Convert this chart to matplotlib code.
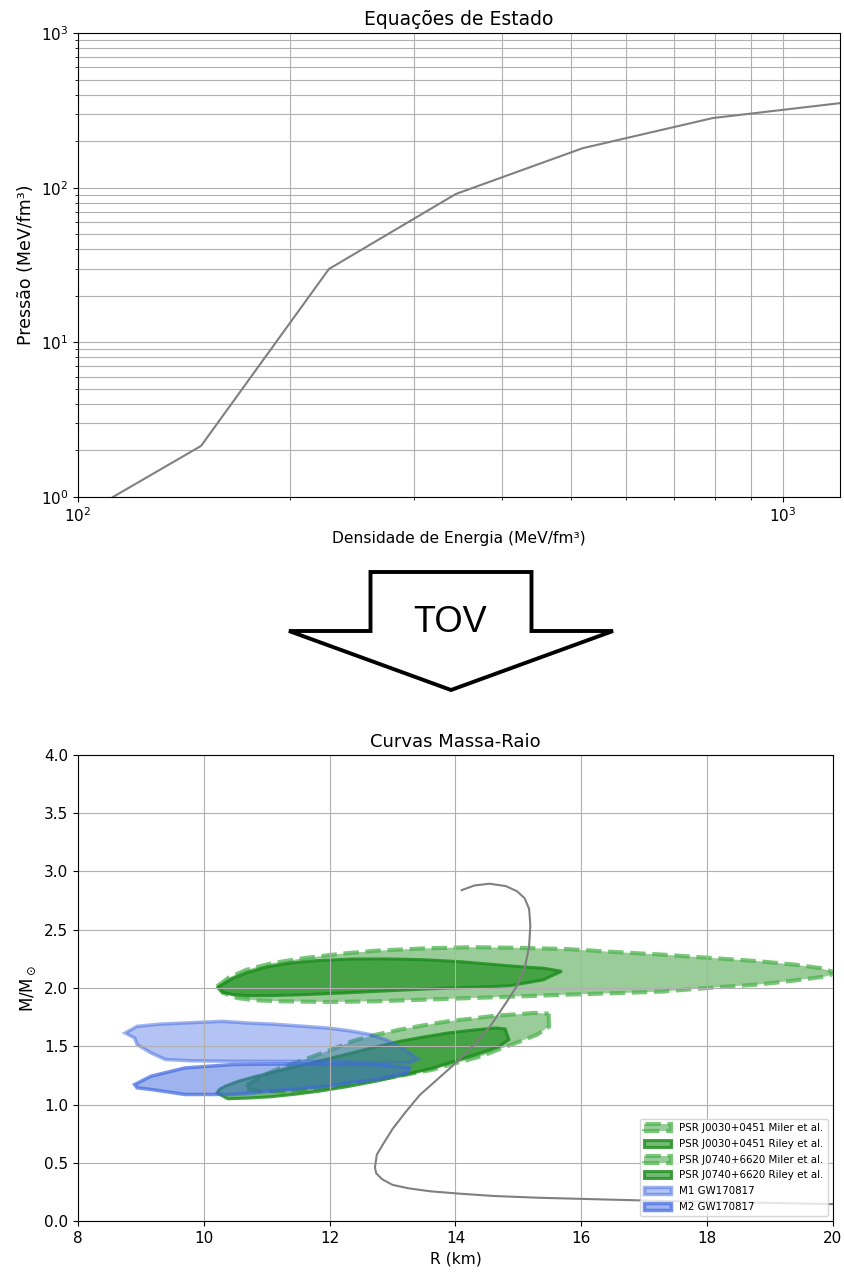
import numpy as np
import matplotlib
matplotlib.use("Agg")
import matplotlib.pyplot as plt
from matplotlib.patches import FancyArrow
from matplotlib.ticker import NullFormatter

# equacao de estado (densidade de energia x pressao)
eps_eos = [112.1, 149.5, 227.0, 343.5, 520.0, 795.5, 1205.0]
p_eos = [1.0, 2.14, 29.8, 91.0, 180.0, 282.0, 352.0]

# curva massa-raio
r_curve = [20.0, 18.5, 17.0, 16.0, 15.3, 14.6, 14.03, 13.6, 13.26, 13.0, 12.83, 12.74,
           12.72, 12.75, 12.85, 13.0, 13.2, 13.43, 13.7, 13.95, 14.29, 14.55, 14.8, 14.98,
           15.1, 15.17, 15.19, 15.17, 15.1, 14.98, 14.8, 14.54, 14.3, 14.1]
m_curve = [0.145, 0.16, 0.176, 0.19, 0.2, 0.215, 0.236, 0.255, 0.28, 0.31, 0.36, 0.41,
           0.46, 0.57, 0.66, 0.79, 0.93, 1.08, 1.21, 1.33, 1.51, 1.67, 1.87, 2.02,
           2.17, 2.35, 2.54, 2.68, 2.77, 2.83, 2.875, 2.895, 2.88, 2.84]

# contornos observacionais
r_j0030_miller = [15.48, 15.49, 15.3, 15.02, 14.7, 14.41, 14.0, 13.65, 13.2, 12.74, 12.3, 11.83,
                  11.5, 11.22, 10.9, 10.7, 10.65, 10.8, 10.91, 11.2, 11.6, 12.0, 12.36, 12.7,
                  13.12, 13.5, 13.88, 14.3, 14.64, 15.0, 15.25]
m_j0030_miller = [1.78, 1.67, 1.6, 1.54, 1.475, 1.414, 1.355, 1.3, 1.255, 1.214, 1.18, 1.143,
                  1.125, 1.114, 1.115, 1.13, 1.16, 1.2, 1.243, 1.31, 1.386, 1.465, 1.543, 1.595,
                  1.643, 1.68, 1.714, 1.74, 1.763, 1.775, 1.786]

r_j0030_riley = [14.79, 14.85, 14.7, 14.41, 14.0, 13.65, 13.2, 12.74, 12.3, 11.83, 11.45, 11.06,
                 10.7, 10.38, 10.21, 10.25, 10.34, 10.55, 10.84, 11.2, 11.6, 12.0, 12.36, 12.7,
                 13.12, 13.5, 13.88, 14.3, 14.64]
m_j0030_riley = [1.649, 1.557, 1.5, 1.443, 1.375, 1.314, 1.255, 1.2, 1.155, 1.114, 1.088, 1.066,
                 1.055, 1.049, 1.1, 1.13, 1.157, 1.2, 1.243, 1.29, 1.343, 1.395, 1.443, 1.49,
                 1.543, 1.58, 1.614, 1.64, 1.657]

r_j0740_miller = [10.21, 10.4, 10.68, 11.1, 11.6, 12.2, 12.74, 13.5, 14.26, 15.0, 15.78, 16.5,
                  17.3, 18.0, 18.82, 19.4, 19.81, 20.05, 19.9, 19.4, 18.82, 18.0, 17.3, 16.5,
                  15.78, 15.0, 14.26, 13.5, 12.74, 12.0, 11.22, 10.8, 10.53, 10.3]
m_j0740_miller = [2.014, 2.09, 2.157, 2.215, 2.257, 2.295, 2.32, 2.34, 2.35, 2.345, 2.334, 2.31,
                  2.286, 2.26, 2.23, 2.2, 2.17, 2.13, 2.1, 2.065, 2.03, 2.0, 1.97, 1.955,
                  1.943, 1.928, 1.914, 1.9, 1.886, 1.88, 1.886, 1.895, 1.914, 1.96]

r_j0740_riley = [10.23, 10.45, 10.68, 11.0, 11.37, 11.8, 12.36, 12.9, 13.5, 14.1, 14.64, 15.1,
                 15.4, 15.69, 15.55, 15.4, 14.87, 14.3, 13.88, 13.3, 12.74, 12.2, 11.6, 11.1,
                 10.68, 10.45, 10.3]
m_j0740_riley = [2.009, 2.08, 2.13, 2.18, 2.214, 2.235, 2.249, 2.25, 2.243, 2.225, 2.2, 2.18,
                 2.17, 2.143, 2.11, 2.07, 2.02, 2.005, 2.0, 1.985, 1.971, 1.957, 1.943, 1.935,
                 1.934, 1.945, 1.963]

r_m1 = [8.75, 8.94, 9.3, 9.7, 10.3, 10.68, 11.1, 11.6, 12.0, 12.36, 12.65, 12.89, 13.05,
        13.19, 13.41, 13.27, 12.5, 11.98, 11.2, 10.46, 9.8, 9.39, 9.16, 8.94, 8.9]
m_m1 = [1.614, 1.671, 1.69, 1.7, 1.714, 1.7, 1.69, 1.671, 1.655, 1.629, 1.6, 1.557, 1.515,
        1.471, 1.391, 1.357, 1.36, 1.371, 1.37, 1.371, 1.375, 1.386, 1.443, 1.514, 1.571]

r_m2 = [8.9, 9.16, 9.7, 10.46, 11.0, 11.6, 12.2, 12.74, 13.27, 13.23, 12.74, 12.3, 11.98,
        11.6, 11.22, 10.8, 10.46, 9.7, 9.16, 8.94]
m_m2 = [1.171, 1.243, 1.314, 1.343, 1.347, 1.349, 1.347, 1.343, 1.314, 1.271, 1.214, 1.185,
        1.157, 1.14, 1.123, 1.1, 1.086, 1.086, 1.129, 1.143]

fig = plt.figure(figsize=(8.44, 12.75), dpi=100)

# ---- Equacoes de estado ----
ax1 = fig.add_axes([0.0924, 0.6102, 0.9028, 0.3639])
ax1.plot(eps_eos, p_eos, color='gray', lw=1.5)
ax1.set_xscale('log')
ax1.set_yscale('log')
ax1.set_xlim(100, 1205)
ax1.set_ylim(1, 1000)
ax1.xaxis.set_minor_formatter(NullFormatter())
ax1.grid(True, which='both')
ax1.tick_params(labelsize=11)
ax1.set_title('Equações de Estado', fontsize=13.5)
ax1.set_xlabel('Densidade de Energia (MeV/fm³)', fontsize=11.2)
ax1.set_ylabel('Pressão (MeV/fm³)', fontsize=12.5)

# ---- seta TOV ----
ax_arrow = fig.add_axes([0, (1275 - 700) / 1275, 1, 140 / 1275])
ax_arrow.set_xlim(0, 844)
ax_arrow.set_ylim(700, 560)
ax_arrow.axis('off')
ax_arrow.add_patch(FancyArrow(451, 572, 0, 118, width=161, head_width=324, head_length=59,
                              length_includes_head=True, facecolor='white',
                              edgecolor='black', lw=2.8))
ax_arrow.text(450, 622, 'TOV', ha='center', va='center', fontsize=26, family='Liberation Sans')

# ---- Curvas massa-raio ----
ax2 = fig.add_axes([0.0924, 0.04235, 0.8945, 0.3655])

light_green = (0.0, 0.5, 0.0, 0.4)
dark_green = (0.0, 0.5, 0.0, 0.55)
ax2.fill(r_j0030_miller, m_j0030_miller, facecolor=light_green, edgecolor=(0.3, 0.7, 0.3, 0.75),
         lw=3, ls='--', label='PSR J0030+0451 Miler et al.')
ax2.fill(r_j0030_riley, m_j0030_riley, facecolor=dark_green, edgecolor=(0.1, 0.55, 0.1, 0.8),
         lw=2.2, label='PSR J0030+0451 Riley et al.')
ax2.fill(r_j0740_miller, m_j0740_miller, facecolor=light_green, edgecolor=(0.3, 0.7, 0.3, 0.75),
         lw=3, ls='--', label='PSR J0740+6620 Miler et al.')
ax2.fill(r_j0740_riley, m_j0740_riley, facecolor=dark_green, edgecolor=(0.1, 0.55, 0.1, 0.8),
         lw=2.2, label='PSR J0740+6620 Riley et al.')
ax2.fill(r_m1, m_m1, facecolor=(0.255, 0.412, 0.882, 0.4), edgecolor=(0.255, 0.412, 0.882, 0.5),
         lw=2.5, label='M1 GW170817')
ax2.fill(r_m2, m_m2, facecolor=(0.255, 0.412, 0.882, 0.5), edgecolor=(0.255, 0.412, 0.882, 0.7),
         lw=2.5, label='M2 GW170817')

ax2.plot(r_curve, m_curve, color='gray', lw=1.5)
ax2.set_xlim(8, 20)
ax2.set_ylim(0, 4)
ax2.set_yticks(np.arange(0, 4.01, 0.5))
ax2.grid(True)
ax2.tick_params(labelsize=11)
ax2.set_title('Curvas Massa-Raio', fontsize=13)
ax2.set_xlabel('R (km)', fontsize=11.2)
ax2.set_ylabel(r'M/M$_\odot$', fontsize=12)
ax2.legend(loc='lower right', fontsize=7.4, handlelength=2.6, labelspacing=0.55)

fig.savefig('out.png', dpi=100)
